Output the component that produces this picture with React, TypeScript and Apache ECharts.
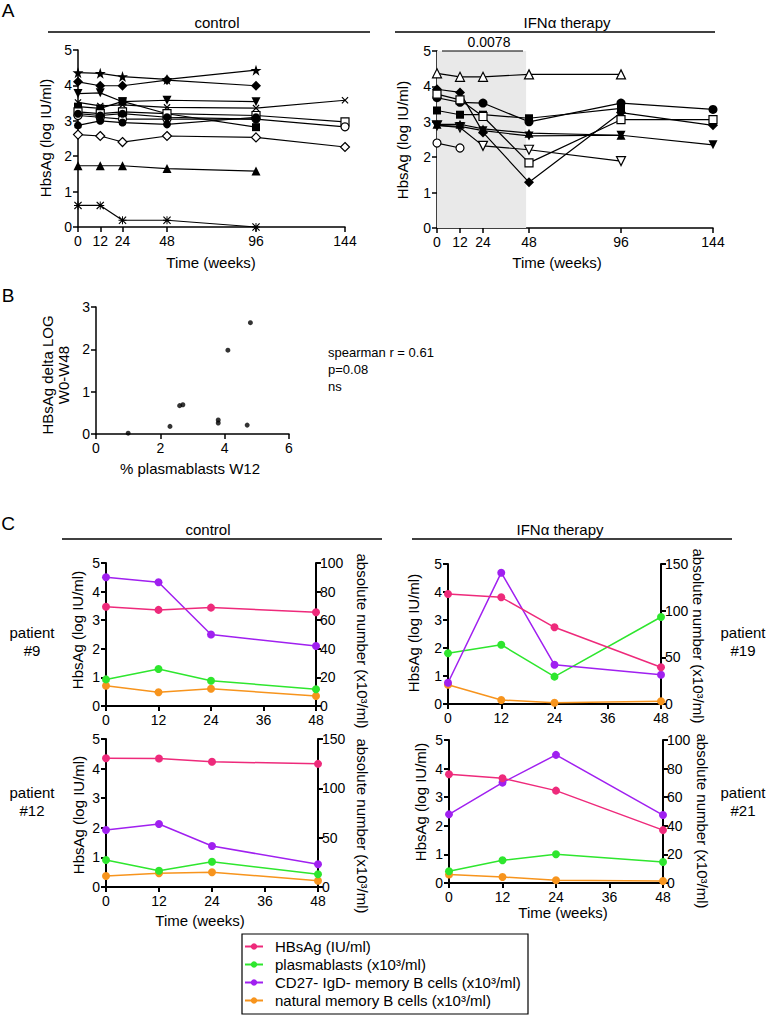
import React, { useEffect, useRef } from "react";
import * as echarts from "echarts";

const FONT = "'Liberation Sans', Arial, Helvetica, sans-serif";

// ---------- Panel A (HbsAg, log IU/ml) ----------
const A_WEEKS = [0, 12, 24, 48, 96, 144];
const A_Y_TICKS_MAX = 5;

const ctrlStarF = [4.36, 4.34, 4.25, 4.17, 4.43, null];
const ctrlDiamondF = [4.1, 3.99, 3.99, 4.15, 3.99, null];
const ctrlTriDownF = [3.77, 3.79, 3.54, 3.58, 3.54, null];
const ctrlCross = [3.52, 3.42, 3.45, 3.38, 3.36, 3.58];
const ctrlSquareF = [3.4, 3.35, 3.55, 3.2, 2.82, null];
const ctrlSquareO = [3.25, 3.2, 3.25, 3.2, 3.15, 2.97];
const ctrlCircleO = [3.15, 3.1, 3.05, 3.05, 3.05, 2.83];
const ctrlCircleF = [2.87, 3.0, 2.95, 2.9, 3.1, null];
const ctrlCircleF2 = [3.2, 3.15, 3.2, 3.1, 3.05, null];
const ctrlDiamondO = [2.61, 2.57, 2.4, 2.57, 2.53, 2.26];
const ctrlTriUpF = [1.73, 1.73, 1.73, 1.65, 1.58, null];
const ctrlAsterisk = [0.61, 0.61, 0.19, 0.19, 0, null];

const ifnTriUpO = [4.37, 4.27, 4.27, 4.34, 4.34, null];
const ifnCircleF = [3.68, 3.55, 3.53, 3.0, 3.53, 3.35];
const ifnDiamondF = [3.92, 3.83, 2.7, 1.29, 3.26, 2.9];
const ifnSquareF = [3.32, 3.2, 3.2, 3.1, 3.38, null];
const ifnSquareO = [3.78, 3.62, 3.15, 1.84, 3.06, 3.06];
const ifnTriDownO = [2.9, 2.84, 2.32, 2.21, 1.89, null];
const ifnTriDownF = [2.9, 2.87, 2.75, 2.6, 2.62, 2.35];
const ifnTriUpF = [2.93, 2.93, 2.8, 2.68, 2.62, null];
const ifnCircleO = [2.4, 2.26, null, null, null, null];
const ifnShadeWeeks = [0, 46.5];
const ifnPValue = "0.0078";

// ---------- Panel B ----------
const bPlasmablastsW12 = [1.0, 2.3, 2.6, 2.7, 3.8, 3.8, 4.1, 4.7, 4.8];
const bDeltaLog = [0.02, 0.18, 0.67, 0.69, 0.33, 0.26, 1.98, 0.21, 2.63];
const bStats = ["spearman r = 0.61", "p=0.08", "ns"];

// ---------- Panel C ----------
const C_WEEKS = [0, 12, 24, 48];
const L_HBSAG = "HBsAg (IU/ml)";
const L_PLASMA = "plasmablasts (x10³/ml)";
const L_CD27 = "CD27- IgD- memory B cells (x10³/ml)";
const L_NAT = "natural memory B cells (x10³/ml)";

const p9Hbsag = [3.47, 3.36, 3.44, 3.28];
const p9Plasma = [18.6, 25.9, 17.7, 11.7];
const p9Cd27 = [90, 86.5, 50, 42];
const p9Natural = [14.2, 9.6, 12.1, 7];

const p12Hbsag = [4.35, 4.34, 4.23, 4.16];
const p12Plasma = [27.4, 16.5, 25.6, 12.9];
const p12Cd27 = [57.8, 63.9, 41.5, 23];
const p12Natural = [11.1, 13.9, 14.9, 6.4];

const p19Hbsag = [3.93, 3.81, 2.74, 1.31];
const p19Plasma = [54.3, 63.5, 29.3, 93.2];
const p19Cd27 = [22.8, 140.7, 42, 31.4];
const p19Natural = [20.7, 4.3, 1.4, 2.9];

const p21Hbsag = [3.8, 3.66, 3.23, 1.85];
const p21Plasma = [8.2, 15.9, 20.1, 14.7];
const p21Cd27 = [48, 70.2, 89.6, 47.5];
const p21Natural = [5.9, 4.2, 1.9, 1.4];

const PINK = "#ee2a7b";
const GREEN = "#2ee62e";
const PURPLE = "#a020f0";
const ORANGE = "#f7941d";

const STAR = "path://M50,0L61.8,35.5L99,35.5L69,57.5L80.5,93L50,71L19.5,93L31,57.5L1,35.5L38.2,35.5Z";
const DIAMOND = "path://M50,0L100,50L50,100L0,50Z";
const CROSS = "path://M0,12L12,0L50,38L88,0L100,12L62,50L100,88L88,100L50,62L12,100L0,88L38,50Z";
const ASTER =
  "path://M0,10L10,0L50,40L90,0L100,10L60,50L100,90L90,100L50,60L10,100L0,90L40,50Z M44,0H56V100H44Z M0,44H100V56H0Z";

const axisLineStyle = (w: number) => ({ show: true, lineStyle: { color: "#000", width: w } });
const tickStyle = (w: number, extra: any = {}) => ({ show: true, length: 5, lineStyle: { color: "#000", width: w }, ...extra });
const labelStyle = (extra: any = {}) => ({ color: "#000", fontSize: 14, fontFamily: FONT, margin: 6, ...extra });

function aXAxis(gridIndex: number) {
  return {
    type: "value",
    gridIndex,
    min: 0,
    max: 144,
    axisLine: { ...axisLineStyle(1.5), onZero: false },
    axisTick: tickStyle(1.5, { customValues: A_WEEKS }),
    axisLabel: labelStyle({ customValues: A_WEEKS, margin: 7 }),
    splitLine: { show: false },
  };
}
function aYAxis(gridIndex: number) {
  return {
    type: "value",
    gridIndex,
    min: 0,
    max: A_Y_TICKS_MAX,
    interval: 1,
    axisLine: axisLineStyle(1.5),
    axisTick: tickStyle(1.5),
    axisLabel: labelStyle(),
    splitLine: { show: false },
  };
}
function cXAxis(gridIndex: number) {
  return {
    type: "value",
    gridIndex,
    min: 0,
    max: 48,
    interval: 12,
    axisLine: { ...axisLineStyle(2), onZero: false },
    axisTick: tickStyle(2),
    axisLabel: labelStyle({ margin: 7 }),
    splitLine: { show: false },
  };
}
function cYLeft(gridIndex: number) {
  return {
    type: "value",
    gridIndex,
    position: "left",
    min: 0,
    max: 5,
    interval: 1,
    axisLine: axisLineStyle(2),
    axisTick: tickStyle(2),
    axisLabel: labelStyle(),
    splitLine: { show: false },
  };
}
function cYRight(gridIndex: number, max: number, interval: number) {
  return {
    type: "value",
    gridIndex,
    position: "right",
    min: 0,
    max,
    interval,
    axisLine: axisLineStyle(2),
    axisTick: tickStyle(2),
    axisLabel: labelStyle({ margin: 4 }),
    splitLine: { show: false },
  };
}

function aSeries(xi: number, list: any[]) {
  return list.map(([vals, sym, filled, size, rot]) => ({
    type: "line",
    xAxisIndex: xi,
    yAxisIndex: xi,
    data: A_WEEKS.map((w, i) => [w, vals[i]]).filter((p) => p[1] !== null),
    symbol: sym,
    symbolSize: size,
    symbolRotate: rot || 0,
    showSymbol: true,
    lineStyle: { color: "#000", width: 1.2 },
    itemStyle: filled
      ? { color: "#000", borderColor: "#000", borderWidth: 0 }
      : { color: "#fff", borderColor: "#000", borderWidth: 1.2 },
    z: 3,
  }));
}

function cSeries(xi: number, yl: number, yr: number, hb: number[], pl: number[], cd: number[], nat: number[]) {
  const mk = (name: string, color: string, arr: number[], yi: number) => ({
    type: "line",
    name,
    xAxisIndex: xi,
    yAxisIndex: yi,
    data: C_WEEKS.map((w, i) => [w, arr[i]]),
    symbol: "circle",
    symbolSize: 8,
    lineStyle: { color, width: 1.5 },
    itemStyle: { color },
    z: 3,
  });
  return [mk(L_NAT, ORANGE, nat, yr), mk(L_PLASMA, GREEN, pl, yr), mk(L_CD27, PURPLE, cd, yr), mk(L_HBSAG, PINK, hb, yl)];
}

const txt = (text: string, x: number, y: number, opts: any = {}) => ({
  type: "text",
  x,
  y,
  rotation: opts.rotation || 0,
  z: 10,
  style: {
    text,
    fill: "#000",
    fontSize: opts.fontSize || 15,
    fontFamily: FONT,
    align: opts.align || "center",
    verticalAlign: "middle",
    lineHeight: opts.lineHeight || 18,
  },
});
const ln = (x1: number, y1: number, x2: number, y2: number, w = 1.3) => ({
  type: "line",
  z: 10,
  shape: { x1, y1, x2, y2 },
  style: { stroke: "#000", lineWidth: w },
});

export default function App() {
  const ref = useRef<HTMLDivElement>(null);
  useEffect(() => {
    if (!ref.current) return;
    const chart = echarts.init(ref.current, undefined, { renderer: "svg" });

    const ctrlList = [
      [ctrlStarF, STAR, true, 11, 0],
      [ctrlDiamondF, DIAMOND, true, 10, 0],
      [ctrlTriDownF, "triangle", true, 9, 180],
      [ctrlCross, CROSS, true, 7, 0],
      [ctrlSquareF, "rect", true, 8, 0],
      [ctrlSquareO, "rect", false, 8, 0],
      [ctrlCircleO, "circle", false, 8, 0],
      [ctrlCircleF, "circle", true, 8, 0],
      [ctrlCircleF2, "circle", true, 8, 0],
      [ctrlDiamondO, DIAMOND, false, 9, 0],
      [ctrlTriUpF, "triangle", true, 9, 0],
      [ctrlAsterisk, ASTER, true, 8, 0],
    ];
    const ifnList = [
      [ifnTriUpO, "triangle", false, 9, 0],
      [ifnCircleF, "circle", true, 9, 0],
      [ifnDiamondF, DIAMOND, true, 10, 0],
      [ifnSquareF, "rect", true, 8, 0],
      [ifnSquareO, "rect", false, 8, 0],
      [ifnTriDownO, "triangle", false, 9, 180],
      [ifnTriDownF, "triangle", true, 9, 180],
      [ifnTriUpF, "triangle", true, 9, 0],
      [ifnCircleO, "circle", false, 8, 0],
    ];

    const grids = [
      { left: 78, top: 50, width: 267, height: 177 },
      { left: 437, top: 51, width: 276, height: 177 },
      { left: 96, top: 307, width: 193, height: 127 },
      { left: 106, top: 563, width: 210, height: 143 },
      { left: 106, top: 739, width: 212, height: 148 },
      { left: 448, top: 564, width: 213, height: 140 },
      { left: 449, top: 740, width: 214, height: 143 },
    ].map((g) => ({ ...g, containLabel: false, outerBoundsMode: "none", show: false }));

    const option: any = {
      animation: false,
      backgroundColor: "#fff",
      grid: grids,
      xAxis: [
        aXAxis(0),
        aXAxis(1),
        {
          type: "value",
          gridIndex: 2,
          min: 0,
          max: 6,
          interval: 2,
          axisLine: { ...axisLineStyle(1.5), onZero: false },
          axisTick: tickStyle(1.5),
          axisLabel: labelStyle({ margin: 7 }),
          splitLine: { show: false },
        },
        cXAxis(3),
        cXAxis(4),
        cXAxis(5),
        cXAxis(6),
      ],
      yAxis: [
        aYAxis(0),
        aYAxis(1),
        {
          type: "value",
          gridIndex: 2,
          min: 0,
          max: 3,
          interval: 1,
          axisLine: axisLineStyle(1.5),
          axisTick: tickStyle(1.5),
          axisLabel: labelStyle(),
          splitLine: { show: false },
        },
        cYLeft(3),
        cYRight(3, 100, 20),
        cYLeft(4),
        cYRight(4, 150, 50),
        cYLeft(5),
        cYRight(5, 150, 50),
        cYLeft(6),
        cYRight(6, 100, 20),
      ],
      legend: {
        data: [L_HBSAG, L_PLASMA, L_CD27, L_NAT],
        orient: "vertical",
        left: 244,
        top: 939,
        padding: 0,
        itemWidth: 18,
        itemHeight: 8,
        itemGap: 3,
        selectedMode: false,
        textStyle: { color: "#000", fontSize: 15, fontFamily: FONT, padding: [0, 0, 0, 7] },
      },
      series: [
        {
          type: "line",
          xAxisIndex: 1,
          yAxisIndex: 1,
          data: [[0, 0]],
          symbol: "none",
          lineStyle: { opacity: 0 },
          z: 1,
          markArea: {
            silent: true,
            itemStyle: { color: "#e9e9e9" },
            data: [[{ xAxis: ifnShadeWeeks[0] }, { xAxis: ifnShadeWeeks[1] }]],
          },
        },
        ...aSeries(0, ctrlList),
        ...aSeries(1, ifnList),
        {
          type: "scatter",
          xAxisIndex: 2,
          yAxisIndex: 2,
          data: bPlasmablastsW12.map((x, i) => [x, bDeltaLog[i]]),
          symbol: "circle",
          symbolSize: 5,
          itemStyle: { color: "#000" },
        },
        ...cSeries(3, 3, 4, p9Hbsag, p9Plasma, p9Cd27, p9Natural),
        ...cSeries(4, 5, 6, p12Hbsag, p12Plasma, p12Cd27, p12Natural),
        ...cSeries(5, 7, 8, p19Hbsag, p19Plasma, p19Cd27, p19Natural),
        ...cSeries(6, 9, 10, p21Hbsag, p21Plasma, p21Cd27, p21Natural),
      ],
      graphic: [
        txt("A", 8, 10, { fontSize: 19 }),
        txt("B", 8, 295, { fontSize: 19 }),
        txt("C", 8, 523, { fontSize: 19 }),
        // panel A headers
        txt("control", 217, 22),
        ln(48, 32, 370, 32),
        txt("IFNα therapy", 567, 22),
        ln(395, 32, 715, 32),
        txt("HbsAg (log IU/ml)", 45, 138, { rotation: Math.PI / 2 }),
        txt("HbsAg (log IU/ml)", 402, 140, { rotation: Math.PI / 2 }),
        txt("Time (weeks)", 211, 262),
        txt("Time (weeks)", 557, 262),
        ln(442, 51, 523, 51, 1.2),
        txt(ifnPValue, 489, 42, { fontSize: 14 }),
        // panel B
        txt("HBsAg delta LOG", 47, 375, { rotation: Math.PI / 2 }),
        txt("W0-W48", 63, 375, { rotation: Math.PI / 2 }),
        txt("% plasmablasts W12", 190, 468),
        txt(bStats[0], 328, 352, { fontSize: 13, align: "left" }),
        txt(bStats[1], 328, 369, { fontSize: 13, align: "left" }),
        txt(bStats[2], 328, 386, { fontSize: 13, align: "left" }),
        // panel C headers
        txt("control", 208, 529),
        ln(62, 539, 382, 539),
        txt("IFNα therapy", 560, 529),
        ln(412, 539, 732, 539),
        txt("HbsAg (log IU/ml)", 77, 630, { rotation: Math.PI / 2 }),
        txt("HbsAg (log IU/ml)", 78, 815, { rotation: Math.PI / 2 }),
        txt("HbsAg (log IU/ml)", 413, 633, { rotation: Math.PI / 2 }),
        txt("HbsAg (log IU/ml)", 420, 802, { rotation: Math.PI / 2 }),
        txt("absolute number (x10³/ml)", 362, 641, { rotation: -Math.PI / 2 }),
        txt("absolute number (x10³/ml)", 362, 826, { rotation: -Math.PI / 2 }),
        txt("absolute number (x10³/ml)", 698, 636, { rotation: -Math.PI / 2 }),
        txt("absolute number (x10³/ml)", 702, 821, { rotation: -Math.PI / 2 }),
        txt("patient\n#9", 32, 641),
        txt("patient\n#12", 32, 801),
        txt("patient\n#19", 743, 641),
        txt("patient\n#21", 743, 801),
        txt("Time (weeks)", 200, 920),
        txt("Time (weeks)", 563, 912),
        {
          type: "rect",
          z: 10,
          shape: { x: 242, y: 934, width: 286, height: 80 },
          style: { fill: "none", stroke: "#000", lineWidth: 1.2 },
        },
      ],
    };
    chart.setOption(option);
    return () => chart.dispose();
  }, []);
  return <div ref={ref} style={{ position: "absolute", left: 0, top: 0, width: 770, height: 1019 }} />;
}
